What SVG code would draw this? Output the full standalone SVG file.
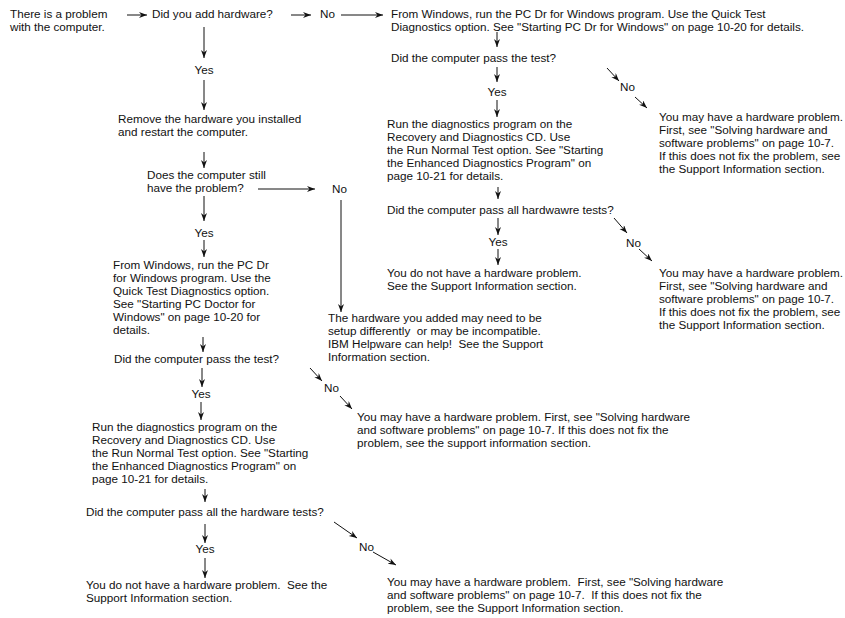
<svg xmlns="http://www.w3.org/2000/svg" width="845" height="618" viewBox="0 0 845 618" xml:space="preserve">
<style>
text{font-family:"Liberation Sans",Arial,Helvetica,sans-serif;font-size:11.7px;fill:#111;white-space:pre}
.m{text-anchor:middle}
#connectors line{stroke:#111;stroke-width:1;fill:none;marker-end:url(#ah)}
</style>
<defs>
<marker id="ah" markerUnits="userSpaceOnUse" markerWidth="9" markerHeight="7" refX="8" refY="3" orient="auto">
<path d="M0,0 L8,3 L0,6 L2.5,3 Z" fill="#111"/>
</marker>
</defs>
<rect width="845" height="618" fill="#fff"/>
<g id="connectors">
<line x1="127" y1="15" x2="147" y2="15"/>
<line x1="291" y1="15" x2="311" y2="15"/>
<line x1="341" y1="15" x2="383" y2="15"/>
<line x1="204" y1="27" x2="204" y2="58"/>
<line x1="204" y1="80" x2="204" y2="110"/>
<line x1="204" y1="152" x2="204" y2="168"/>
<line x1="258" y1="189" x2="315" y2="189"/>
<line x1="341" y1="200" x2="341" y2="312"/>
<line x1="204" y1="196" x2="204" y2="221"/>
<line x1="204" y1="240" x2="204" y2="257"/>
<line x1="203" y1="337" x2="203" y2="352"/>
<line x1="202" y1="368" x2="202" y2="387"/>
<line x1="201" y1="402" x2="201" y2="420"/>
<line x1="310" y1="368" x2="322" y2="381"/>
<line x1="340" y1="396" x2="352" y2="409"/>
<line x1="205" y1="489" x2="205" y2="502"/>
<line x1="205" y1="524" x2="205" y2="543"/>
<line x1="205" y1="558" x2="205" y2="578"/>
<line x1="334" y1="522" x2="357" y2="538"/>
<line x1="373" y1="552" x2="396" y2="565"/>
<line x1="497" y1="32" x2="497" y2="47"/>
<line x1="497" y1="67" x2="497" y2="82"/>
<line x1="497" y1="100" x2="497" y2="117"/>
<line x1="607" y1="68" x2="619" y2="81"/>
<line x1="635" y1="97" x2="647" y2="108"/>
<line x1="498" y1="187" x2="498" y2="199"/>
<line x1="498" y1="218" x2="498" y2="235"/>
<line x1="498" y1="249" x2="498" y2="265"/>
<line x1="614" y1="218" x2="627" y2="233"/>
<line x1="639" y1="249" x2="652" y2="261"/>
</g>
<g id="start"><text x="10" y="18">There is a problem</text><text x="10" y="31">with the computer.</text></g>
<g id="q-added"><text x="152" y="18">Did you add hardware?</text></g>
<g id="no-added"><text x="320" y="18">No</text></g>
<g id="pcdr-right"><text x="391" y="18">From Windows, run the PC Dr for Windows program. Use the Quick Test</text><text x="391" y="31">Diagnostics option. See "Starting PC Dr for Windows" on page 10-20 for details.</text></g>
<g id="q-pass-right"><text x="391" y="62">Did the computer pass the test?</text></g>
<g id="yes-pass-right"><text class="m" x="497" y="96">Yes</text></g>
<g id="no-pass-right"><text x="620" y="91">No</text></g>
<g id="hw-problem-r1"><text x="659" y="121">You may have a hardware problem.</text><text x="659" y="134">First, see "Solving hardware and</text><text x="659" y="147">software problems" on page 10-7.</text><text x="659" y="160">If this does not fix the problem, see</text><text x="659" y="173">the Support Information section.</text></g>
<g id="diag-right"><text x="387" y="128">Run the diagnostics program on the</text><text x="387" y="141">Recovery and Diagnostics CD. Use</text><text x="387" y="154">the Run Normal Test option. See "Starting</text><text x="387" y="167">the Enhanced Diagnostics Program" on</text><text x="387" y="180">page 10-21 for details.</text></g>
<g id="q-all-right"><text x="387" y="214">Did the computer pass all hardwawre tests?</text></g>
<g id="yes-all-right"><text class="m" x="498" y="246">Yes</text></g>
<g id="no-all-right"><text x="626" y="247">No</text></g>
<g id="ok-right"><text x="387" y="277">You do not have a hardware problem.</text><text x="387" y="290">See the Support Information section.</text></g>
<g id="hw-problem-r2"><text x="659" y="277">You may have a hardware problem.</text><text x="659" y="290">First, see "Solving hardware and</text><text x="659" y="303">software problems" on page 10-7.</text><text x="659" y="316">If this does not fix the problem, see</text><text x="659" y="329">the Support Information section.</text></g>
<g id="yes-added"><text class="m" x="204" y="74">Yes</text></g>
<g id="remove"><text x="118" y="123">Remove the hardware you installed</text><text x="118" y="136">and restart the computer.</text></g>
<g id="q-still"><text x="147" y="179">Does the computer still</text><text x="147" y="192">have the problem?</text></g>
<g id="no-still"><text x="332" y="193">No</text></g>
<g id="yes-still"><text class="m" x="204" y="237">Yes</text></g>
<g id="pcdr-left"><text x="113" y="269">From Windows, run the PC Dr</text><text x="113" y="282">for Windows program. Use the</text><text x="113" y="295">Quick Test Diagnostics option.</text><text x="113" y="308">See "Starting PC Doctor for</text><text x="113" y="321">Windows" on page 10-20 for</text><text x="113" y="334">details.</text></g>
<g id="setup"><text x="328" y="322">The hardware you added may need to be</text><text x="328" y="335">setup differently  or may be incompatible.</text><text x="328" y="348">IBM Helpware can help!  See the Support</text><text x="328" y="361">Information section.</text></g>
<g id="q-pass-left"><text x="114" y="363">Did the computer pass the test?</text></g>
<g id="yes-pass-left"><text class="m" x="201" y="398">Yes</text></g>
<g id="no-pass-left"><text x="324" y="392">No</text></g>
<g id="hw-problem-m"><text x="357" y="421">You may have a hardware problem. First, see "Solving hardware</text><text x="357" y="434">and software problems" on page 10-7. If this does not fix the</text><text x="357" y="447">problem, see the support information section.</text></g>
<g id="diag-left"><text x="92" y="431">Run the diagnostics program on the</text><text x="92" y="444">Recovery and Diagnostics CD. Use</text><text x="92" y="457">the Run Normal Test option. See "Starting</text><text x="92" y="470">the Enhanced Diagnostics Program" on</text><text x="92" y="483">page 10-21 for details.</text></g>
<g id="q-all-left"><text x="86" y="516">Did the computer pass all the hardware tests?</text></g>
<g id="yes-all-left"><text class="m" x="205" y="553">Yes</text></g>
<g id="no-all-left"><text x="359" y="551">No</text></g>
<g id="ok-left"><text x="86" y="589">You do not have a hardware problem.  See the</text><text x="86" y="602">Support Information section.</text></g>
<g id="hw-problem-b"><text x="387" y="586">You may have a hardware problem.  First, see "Solving hardware</text><text x="387" y="599">and software problems" on page 10-7.  If this does not fix the</text><text x="387" y="612">problem, see the Support Information section.</text></g>
</svg>
